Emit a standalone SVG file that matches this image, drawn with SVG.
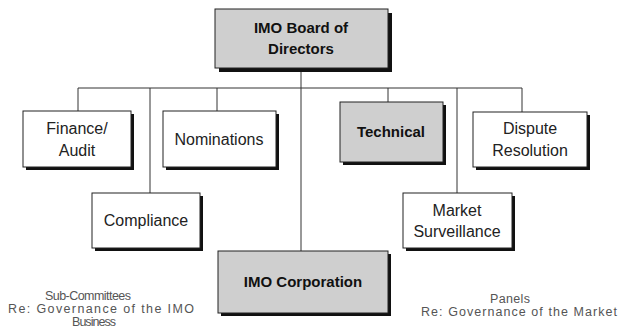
<svg xmlns="http://www.w3.org/2000/svg" width="621" height="336" viewBox="0 0 621 336">
<style>
.box{fill:#fff;stroke:#222;stroke-width:1}
.gbox{fill:#cfcfcf;stroke:#222;stroke-width:1}
.sh{fill:#111}
.t{font-family:"Liberation Sans",Arial,sans-serif;font-size:16px;fill:#222;text-anchor:middle}
.tb{font-family:"Liberation Sans",Arial,sans-serif;font-size:15px;font-weight:bold;fill:#111;text-anchor:middle}
.note{font-family:"Liberation Sans",Arial,sans-serif;font-size:12.5px;fill:#555;text-anchor:middle}
.ln{stroke:#333;stroke-width:1;fill:none}
</style>
<rect width="621" height="336" fill="#fff"/>
<g id="connectors">
<path class="ln" d="M78 88 H522"/>
<path class="ln" d="M301 68 V251"/>
<path class="ln" d="M78 88 V111"/>
<path class="ln" d="M150 88 V193"/>
<path class="ln" d="M217 88 V111"/>
<path class="ln" d="M388 88 V102"/>
<path class="ln" d="M457 88 V193"/>
<path class="ln" d="M522 88 V112"/>
</g>
<g id="board">
<rect class="sh" x="219" y="13" width="173" height="59"/>
<rect class="gbox" x="215" y="9" width="173" height="59"/>
<text class="tb" x="301" y="33">IMO Board of</text>
<text class="tb" x="301" y="54">Directors</text>
</g>
<g id="finance">
<rect class="sh" x="26" y="114" width="108" height="56"/>
<rect class="box" x="23" y="111" width="108" height="56"/>
<text class="t" x="77" y="134">Finance/</text>
<text class="t" x="77" y="156">Audit</text>
</g>
<g id="nominations">
<rect class="sh" x="166" y="114" width="113" height="56"/>
<rect class="box" x="163" y="111" width="113" height="56"/>
<text class="t" x="219" y="145">Nominations</text>
</g>
<g id="technical">
<rect class="sh" x="343" y="105" width="103" height="60"/>
<rect class="gbox" x="340" y="102" width="103" height="60"/>
<text class="tb" x="391" y="137">Technical</text>
</g>
<g id="dispute">
<rect class="sh" x="476" y="115" width="114" height="55"/>
<rect class="box" x="473" y="112" width="114" height="55"/>
<text class="t" x="530" y="134">Dispute</text>
<text class="t" x="530" y="156">Resolution</text>
</g>
<g id="compliance">
<rect class="sh" x="95" y="196" width="108" height="55"/>
<rect class="box" x="92" y="193" width="108" height="55"/>
<text class="t" x="146" y="226">Compliance</text>
</g>
<g id="market">
<rect class="sh" x="406" y="196" width="109" height="55"/>
<rect class="box" x="403" y="193" width="109" height="55"/>
<text class="t" x="457" y="216">Market</text>
<text class="t" x="457" y="237">Surveillance</text>
</g>
<g id="corporation">
<rect class="sh" x="221" y="254" width="170" height="62"/>
<rect class="gbox" x="218" y="251" width="170" height="62"/>
<text class="tb" x="303" y="287">IMO Corporation</text>
</g>
<g id="notes">
<text class="note" x="88" y="300" textLength="86" lengthAdjust="spacing">Sub-Committees</text>
<text class="note" x="101" y="313" textLength="186" lengthAdjust="spacing">Re: Governance of the IMO</text>
<text class="note" x="94" y="326" textLength="44" lengthAdjust="spacing">Business</text>
<text class="note" x="510" y="303" textLength="40" lengthAdjust="spacing">Panels</text>
<text class="note" x="519" y="316" textLength="196" lengthAdjust="spacing">Re: Governance of the Market</text>
</g>
</svg>
